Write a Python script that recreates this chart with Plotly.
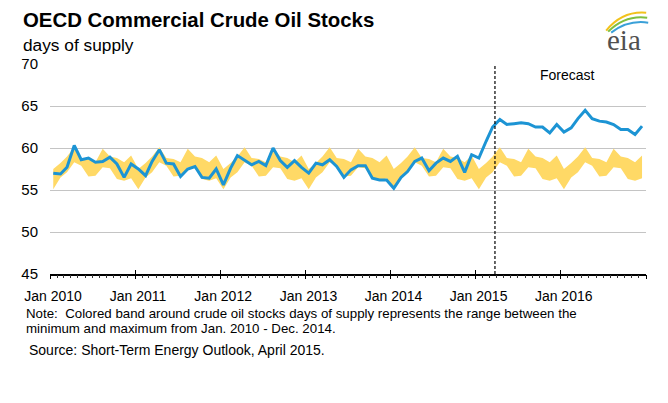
import plotly.graph_objects as go

# ---------------- data ----------------
years = [2010, 2011, 2012, 2013, 2014, 2015, 2016]
months = [f"{y}-{m:02d}-15" for y in years for m in range(1, 13)]

# OECD commercial crude oil stocks, days of supply (history + forecast)
stocks = [
    57.0, 56.9, 57.7, 60.3, 58.6, 58.8, 58.3, 58.4, 58.9, 58.1, 56.5, 58.1,  # 2010
    57.5, 56.7, 58.4, 59.8, 58.2, 58.1, 56.6, 57.5, 57.8, 56.5, 56.4, 57.5,  # 2011
    55.6, 57.6, 59.1, 58.5, 58.0, 58.4, 57.9, 60.0, 58.5, 57.7, 58.5, 57.7,  # 2012
    57.0, 58.2, 58.0, 58.6, 57.8, 56.5, 57.4, 57.9, 57.9, 56.4, 56.2, 56.2,  # 2013
    55.2, 56.5, 57.2, 58.4, 58.8, 57.3, 58.2, 58.8, 58.4, 59.0, 57.1, 59.2,  # 2014
    58.8, 60.8, 62.5, 63.4, 62.8, 62.9, 63.0, 62.9, 62.5, 62.5, 61.8, 62.8,  # 2015
    61.9, 62.4, 63.5, 64.5, 63.5, 63.2, 63.1, 62.8, 62.2, 62.2, 61.6, 62.6,  # 2016
]

# Seasonal min / max (Jan..Dec) over Jan 2010 - Dec 2014
band_low_month = [55.1, 56.5, 57.1, 58.3, 57.9, 56.6, 56.7, 57.7, 57.6, 56.3, 56.1, 56.4]
band_high_month = [57.5, 58.2, 59.0, 60.1, 58.8, 58.7, 58.3, 59.9, 59.0, 58.8, 58.3, 59.1]
band_low = band_low_month * len(years)
band_high = band_high_month * len(years)

tick_vals = [f"{y}-01-01" for y in years]
tick_text = [f"Jan {y}" for y in years]
forecast_start = "2015-03-25"

# ---------------- figure ----------------
FONT = "Liberation Sans, Arial, sans-serif"
BLUE = "#1c94d4"
YELLOW = "#ffd966"

fig = go.Figure()
fig.add_trace(go.Scatter(x=months, y=band_low, mode="lines", line=dict(width=0, color=YELLOW),
                         hoverinfo="skip", showlegend=False))
fig.add_trace(go.Scatter(x=months, y=band_high, mode="lines", line=dict(width=0, color=YELLOW),
                         fill="tonexty", fillcolor=YELLOW, hoverinfo="skip", showlegend=False))
fig.add_trace(go.Scatter(x=months, y=stocks, mode="lines", line=dict(width=3, color=BLUE),
                         showlegend=False))
# helper traces for tick-only overlay axes
fig.add_trace(go.Scatter(x=[months[0]], y=[None], xaxis="x2", showlegend=False, hoverinfo="skip"))
fig.add_trace(go.Scatter(x=[months[0]], y=[None], xaxis="x3", showlegend=False, hoverinfo="skip"))

x_range = ["2010-01-01", "2017-01-01"]

OFF = 8  # page body margin
W, H = 652, 387
L, R, T, B = 42, 14.2, 55.5, 120.7
pw, ph = W - L - R, H - T - B


def px(x):
    return (x - OFF - L) / pw


def py(y):
    return (H - B - (y - OFF)) / ph


fig.update_layout(
    width=W, height=H,
    margin=dict(l=L, r=R, t=T, b=B, pad=0),
    paper_bgcolor="white", plot_bgcolor="white",
    font=dict(family=FONT, color="#000000"),
    xaxis=dict(type="date", range=x_range, tickmode="array", tickvals=tick_vals, ticktext=tick_text,
               ticks="", showgrid=False, showline=True, linecolor="#000000", linewidth=1.5,
               tickfont=dict(size=14, color="#000000"), ticklabelshift=3, ticklabelstandoff=8,
               zeroline=False),
    xaxis2=dict(type="date", range=x_range, overlaying="x", anchor="y", tick0="2010-01-01", dtick="M12",
                ticks="outside", ticklen=4, tickwidth=1, tickcolor="#000000", showticklabels=False,
                showgrid=False, showline=False, zeroline=False,
                minor=dict(dtick="M1", tick0="2010-01-01", ticks="outside", ticklen=2.5, tickwidth=1,
                           tickcolor="#333333", showgrid=False)),
    xaxis3=dict(type="date", range=x_range, overlaying="x", anchor="y", tick0="2010-01-01", dtick="M12",
                ticks="inside", ticklen=4, tickwidth=1, tickcolor="#000000", showticklabels=False,
                showgrid=False, showline=False, zeroline=False),
    yaxis=dict(range=[45, 70], dtick=5, tick0=45, showgrid=True, gridcolor="#c4c4c4", gridwidth=1,
               showline=False, ticks="", zeroline=False, ticklabelstandoff=11,
               tickfont=dict(size=15, color="#000000")),
    shapes=[
        dict(type="line", xref="x", yref="paper", x0=forecast_start, x1=forecast_start, y0=0, y1=1,
             line=dict(color="#000000", width=1.2, dash="3px,2px")),
        # eia logo swooshes
        dict(type="path", xref="paper", yref="paper",
             path=f"M {px(606)} {py(30)} Q {px(622)} {py(10)} {px(646)} {py(12)}",
             line=dict(color="#f2c21b", width=2)),
        dict(type="path", xref="paper", yref="paper",
             path=f"M {px(608)} {py(31)} Q {px(625)} {py(14)} {px(647)} {py(17)}",
             line=dict(color="#7fbf3f", width=2)),
        dict(type="path", xref="paper", yref="paper",
             path=f"M {px(611)} {py(32)} Q {px(628)} {py(19)} {px(648)} {py(22)}",
             line=dict(color="#3aa0d8", width=2)),
    ],
    annotations=[
        dict(text="<b>OECD Commercial Crude Oil Stocks</b>", xref="paper", yref="paper",
             x=px(21), y=py(19), xanchor="left", yanchor="middle", showarrow=False,
             font=dict(size=20.4, family=FONT, color="#000000")),
        dict(text="days of supply", xref="paper", yref="paper",
             x=px(21), y=py(44), xanchor="left", yanchor="middle", showarrow=False,
             font=dict(size=17.3, family=FONT, color="#000000")),
        dict(text="Forecast", xref="paper", yref="paper",
             x=px(567), y=py(75), xanchor="center", yanchor="middle", showarrow=False,
             font=dict(size=14, family=FONT, color="#000000")),
        dict(text="Note:  Colored band around crude oil stocks days of supply represents the range between the",
             xref="paper", yref="paper", x=px(24), y=py(314), xanchor="left", yanchor="middle",
             align="left", showarrow=False, font=dict(size=13.3, family=FONT, color="#000000")),
        dict(text="minimum and maximum from Jan. 2010 - Dec. 2014.",
             xref="paper", yref="paper", x=px(24), y=py(329), xanchor="left", yanchor="middle",
             align="left", showarrow=False, font=dict(size=13.3, family=FONT, color="#000000")),
        dict(text="Source: Short-Term Energy Outlook, April 2015.", xref="paper", yref="paper",
             x=px(27), y=py(351), xanchor="left", yanchor="middle", showarrow=False,
             font=dict(size=14, family=FONT, color="#000000")),
        dict(text="eia", xref="paper", yref="paper", x=px(624), y=py(39), xanchor="center",
             yanchor="middle", showarrow=False,
             font=dict(size=29, family="Liberation Serif, DejaVu Serif, serif", color="#505050")),
    ],
)

fig.write_html("out.html")
